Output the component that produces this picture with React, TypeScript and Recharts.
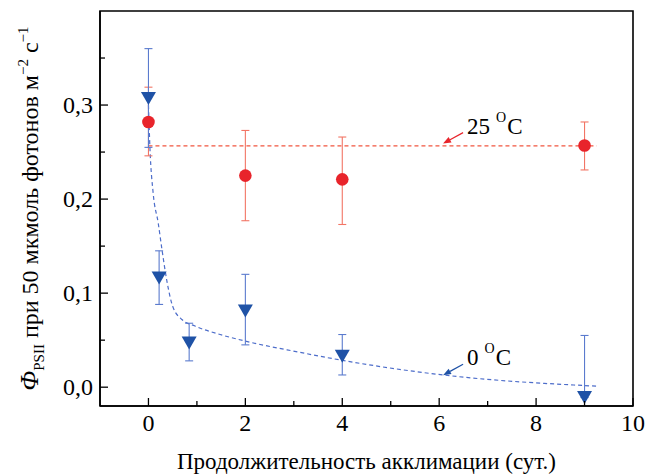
import React from 'react';
import {
  ComposedChart,
  Line,
  Scatter,
  XAxis,
  YAxis,
  ErrorBar,
  ReferenceArea,
  ReferenceDot,
  Label,
} from 'recharts';

// ---- data ----
const days25 = [0, 2, 4, 9];
const phi25 = [0.282, 0.225, 0.221, 0.257];
const err25Low = [0.036, 0.048, 0.048, 0.026];
const err25High = [0.037, 0.048, 0.045, 0.025];

const days0 = [0, 0.22, 0.84, 2, 4, 9];
const phi0 = [0.307, 0.116, 0.047, 0.081, 0.033, -0.011];
const err0Low = [0.052, 0.028, 0.019, 0.036, 0.02, 0];
const err0High = [0.053, 0.029, 0.021, 0.039, 0.023, 0.066];

const fit25X = [0, 9.25];
const fit25Y = [0.2566, 0.2566];

const fit0X = [0, 0.03, 0.1, 0.2, 0.28, 0.38, 0.5, 0.69, 0.96, 1.48, 2, 3.13, 3.95, 6.08, 9.28];
const fit0Y = [0.3, 0.255, 0.205, 0.175, 0.146, 0.113, 0.086, 0.072, 0.065, 0.056, 0.049, 0.037, 0.029, 0.013, 0.001];

const xMajor = [0, 2, 4, 6, 8, 10];
const xMinor = [1, 3, 5, 7, 9];
const yMajor = [0, 0.1, 0.2, 0.3];
const yMinor = [0.05, 0.15, 0.25, 0.35];

const label25 = '25';
const label0 = '0';
const xTitle = 'Продолжительность акклимации (сут.)';

// annotation arrow tips (data coords)
const annot25 = { x: 6.08, y: 0.259 };
const annot0 = { x: 6.08, y: 0.0127 };

// ---- derived tables ----
const data25 = days25.map((d, i) => ({ x: d, y: phi25[i], err: [err25Low[i], err25High[i]] }));
const data0 = days0.map((d, i) => ({ x: d, y: phi0[i], err: [err0Low[i], err0High[i]] }));
const fit25 = fit25X.map((d, i) => ({ x: d, y: fit25Y[i] }));
const fit0 = fit0X.map((d, i) => ({ x: d, y: fit0Y[i] }));

const FONT = '"Liberation Serif", "Times New Roman", serif';
const RED = '#e8242b';
const RED_LIGHT = '#f27565';
const RED_DASH = '#f1553f';
const BLUE = '#1f52a6';
const BLUE_LIGHT = '#5b7bce';
const BLUE_DASH = '#4d6dca';

const isMajor = (v: number, list: number[]) => list.some((m) => Math.abs(m - v) < 1e-9);

const YTick = (props: any) => {
  const { x, y, payload } = props;
  const v = payload.value as number;
  const major = isMajor(v, yMajor);
  return (
    <g>
      <line x1={x} x2={x + (major ? 8 : 5)} y1={y} y2={y} stroke="#000" strokeWidth={1.3} />
      {major && (
        <text x={x - 7} y={y + 8} textAnchor="end" fontFamily={FONT} fontSize={24} fill="#000">
          {v.toFixed(1).replace('.', ',')}
        </text>
      )}
    </g>
  );
};

const XTick = (props: any) => {
  const { x, y, payload } = props;
  const v = payload.value as number;
  const major = isMajor(v, xMajor);
  return (
    <g>
      <line x1={x} x2={x} y1={y} y2={y - (major ? 8 : 5)} stroke="#000" strokeWidth={1.3} />
      {major && (
        <text x={x} y={y + 25} textAnchor="middle" fontFamily={FONT} fontSize={24} fill="#000">
          {String(v)}
        </text>
      )}
    </g>
  );
};

const YTitle = (props: any) => {
  const vb = props.viewBox || { x: 40, y: 11, width: 60, height: 395 };
  const cx = vb.x - 2;
  const cy = vb.y + vb.height / 2;
  return (
    <text
      transform={`translate(${cx},${cy}) rotate(-90)`}
      textAnchor="middle"
      fontFamily={FONT}
      fontSize={24}
      fill="#000"
    >
      <tspan fontStyle="italic" fontSize={26}>Φ</tspan>
      <tspan fontSize={15} dy={6}>PSII</tspan>
      <tspan dy={-6}>{'  при 50 мкмоль фотонов м'}</tspan>
      <tspan fontSize={15} dy={-10}>−2</tspan>
      <tspan dy={10}>{' с'}</tspan>
      <tspan fontSize={15} dy={-10}>−1</tspan>
    </text>
  );
};

const XTitle = (props: any) => {
  const vb = props.viewBox || { x: 100, y: 406, width: 533, height: 50 };
  return (
    <text x={vb.x + vb.width / 2} y={vb.y + 63} textAnchor="middle" fontFamily={FONT} fontSize={23} fill="#000">
      {xTitle}
    </text>
  );
};

const Circle = (props: any) => {
  const { cx, cy } = props;
  if (cx == null || cy == null) return null;
  return <circle cx={cx} cy={cy} r={6.3} fill={RED} />;
};

const Tri = (props: any) => {
  const { cx, cy } = props;
  if (cx == null || cy == null) return null;
  return <polygon points={`${cx - 7.5},${cy - 6.5} ${cx + 7.5},${cy - 6.5} ${cx},${cy + 6.5}`} fill={BLUE} />;
};

const makeAnnot = (label: string, color: string) => (props: any) => {
  const { cx, cy } = props;
  if (cx == null || cy == null) return null;
  const tx = cx + 20;
  const ty = cy - 11;
  const ang = Math.atan2(cy - ty, cx - tx);
  const L = 8;
  const W = 3;
  const bx = cx - L * Math.cos(ang);
  const by = cy - L * Math.sin(ang);
  const px = -Math.sin(ang) * W;
  const py = Math.cos(ang) * W;
  return (
    <g>
      <line x1={tx} y1={ty} x2={bx} y2={by} stroke={color} strokeWidth={1.2} />
      <polygon points={`${cx},${cy} ${bx + px},${by + py} ${bx - px},${by - py}`} fill={color} />
      <text x={cx + 24} y={cy - 10} fontFamily={FONT} fontSize={23} fill="#000">
        {label}
        <tspan fontSize={14} dx={6} dy={-12}>O</tspan>
        <tspan dx={1} dy={12}>C</tspan>
      </text>
    </g>
  );
};

export default function App() {
  return (
    <div style={{ position: 'fixed', left: 0, top: 0, width: 646, height: 474, background: '#fff' }}>
      <ComposedChart width={646} height={474} margin={{ top: 11, right: 13, bottom: 18, left: 40 }}>
        <XAxis
          type="number"
          dataKey="x"
          domain={[-1, 10]}
          ticks={[...xMajor, ...xMinor].sort((a, b) => a - b)}
          allowDataOverflow
          height={50}
          tickSize={0}
          tickMargin={0}
          tickLine={false}
          tick={<XTick />}
          axisLine={{ stroke: '#000', strokeWidth: 1.5 }}
          interval={0}
          label={<Label content={XTitle} />}
        />
        <YAxis
          type="number"
          dataKey="y"
          domain={[-0.02, 0.4]}
          ticks={[...yMajor, ...yMinor].sort((a, b) => a - b)}
          allowDataOverflow
          width={60}
          tickSize={0}
          tickMargin={0}
          tickLine={false}
          tick={<YTick />}
          axisLine={{ stroke: '#000', strokeWidth: 1.5 }}
          interval={0}
          label={<Label content={YTitle} />}
        />
        <ReferenceArea x1={-1} x2={10} y1={-0.02} y2={0.4} fill="none" stroke="#000" strokeWidth={1.6} />
        <Line
          data={fit25}
          dataKey="y"
          type="linear"
          stroke={RED_DASH}
          strokeWidth={1.1}
          strokeDasharray="4 3"
          dot={false}
          isAnimationActive={false}
        />
        <Line
          data={fit0}
          dataKey="y"
          type="monotone"
          stroke={BLUE_DASH}
          strokeWidth={1.2}
          strokeDasharray="4 3"
          dot={false}
          isAnimationActive={false}
        />
        <Scatter data={data25} dataKey="y" shape={<Circle />} isAnimationActive={false}>
          <ErrorBar dataKey="err" direction="y" width={4} stroke={RED_LIGHT} strokeWidth={1.1} isAnimationActive={false} />
        </Scatter>
        <Scatter data={data0} dataKey="y" shape={<Tri />} isAnimationActive={false}>
          <ErrorBar dataKey="err" direction="y" width={4} stroke={BLUE_LIGHT} strokeWidth={1.1} isAnimationActive={false} />
        </Scatter>
        <ReferenceDot x={annot25.x} y={annot25.y} r={0} shape={makeAnnot(label25, RED)} />
        <ReferenceDot x={annot0.x} y={annot0.y} r={0} shape={makeAnnot(label0, BLUE)} />
      </ComposedChart>
    </div>
  );
}
